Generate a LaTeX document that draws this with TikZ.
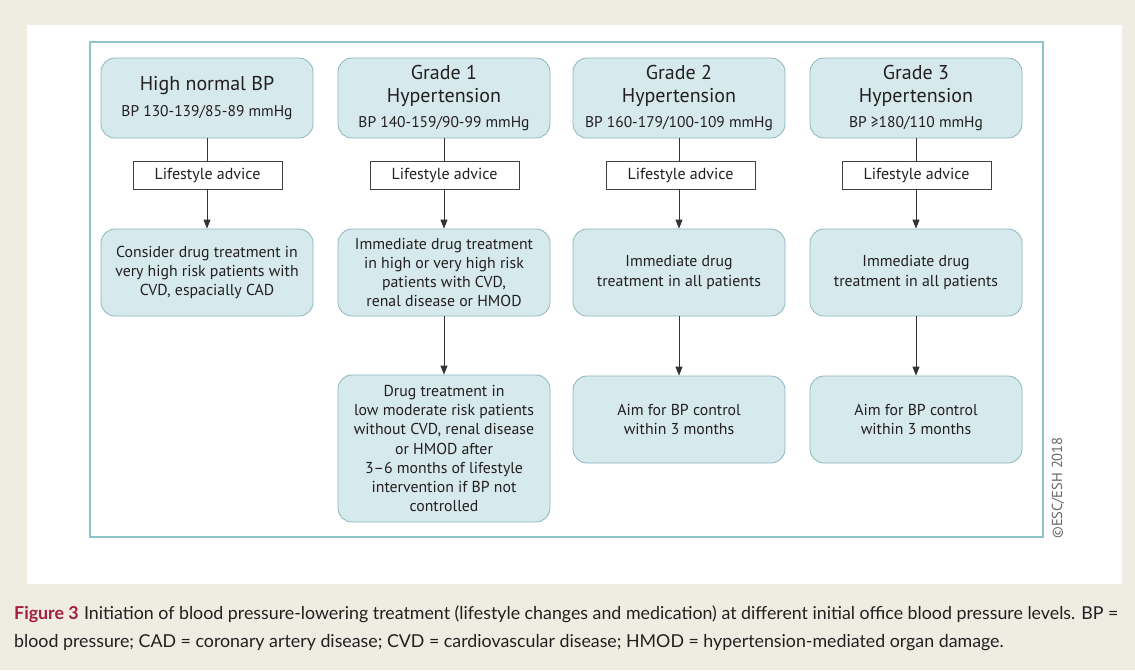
\documentclass[tikz,border=0pt]{standalone}
\usepackage{fontspec}
\setmainfont{PT Sans}
\newfontfamily\capfont{Lato}
\usetikzlibrary{arrows.meta}
\definecolor{bgbeige}{HTML}{EFEDE2}
\definecolor{boxfill}{HTML}{D6E9EC}
\definecolor{boxline}{HTML}{8DB7BF}
\definecolor{frameline}{HTML}{8CC4CB}
\definecolor{figred}{HTML}{A51E3A}
\definecolor{txt}{HTML}{231F20}
\newcommand{\hbig}{\fontsize{20}{25}\selectfont}
\newcommand{\hsmall}{\fontsize{15.5}{17}\selectfont}
\begin{document}
\begin{tikzpicture}[x=1pt,y=-1pt,
  rbox/.style={draw=boxline, fill=boxfill, rounded corners=14pt, line width=0.8pt,
    minimum width=212pt, align=center, text=txt, inner sep=0pt,
    font=\fontsize{15.8}{19.3}\selectfont},
  lbox/.style={draw=black!75, fill=white, line width=0.8pt, minimum width=149pt,
    minimum height=28pt, inner sep=0pt, text=txt, font=\fontsize{16}{18}\selectfont},
  link/.style={draw=black!80, line width=0.9pt},
  arr/.style={link, -{Triangle[length=9pt,width=7pt]}},
]
\fill[bgbeige] (0,0) rectangle (1135,670);
\useasboundingbox (0,0) rectangle (1135,670);
\fill[white] (27,25) rectangle (1122,584);
\draw[frameline, line width=1.5pt] (90,42) rectangle (1043,537);

% column 1
\node[rbox, minimum height=80pt] (h1) at (207,98)
  {\hbig High normal BP\\[6pt]\hsmall BP 130-139/85-89 mmHg};
\node[lbox] (l1) at (207.5,175) {Lifestyle advice};
\node[rbox, minimum height=87pt] (d1) at (207,272.5)
  {Consider drug treatment in\\very high risk patients with\\CVD, espacially CAD};

% column 2
\node[rbox, minimum height=80pt] (h2) at (444,98)
  {\hbig Grade 1\\[4pt]\hbig Hypertension\\[6pt]\hsmall BP 140-159/90-99 mmHg};
\node[lbox] (l2) at (444.5,175) {Lifestyle advice};
\node[rbox, minimum height=87pt] (d2) at (444,272.5)
  {Immediate drug treatment\\in high or very high risk\\patients with CVD,\\renal disease or HMOD};
\node[rbox, minimum height=147pt] (e2) at (444,448.5)
  {Drug treatment in\\low moderate risk patients\\without CVD, renal disease\\or HMOD after\\3--6 months of lifestyle\\intervention if BP not\\controlled};

% column 3
\node[rbox, minimum height=80pt] (h3) at (679,98)
  {\hbig Grade 2\\[4pt]\hbig Hypertension\\[6pt]\hsmall BP 160-179/100-109 mmHg};
\node[lbox] (l3) at (680.5,175) {Lifestyle advice};
\node[rbox, minimum height=87pt] (d3) at (679,272.5)
  {Immediate drug\\treatment in all patients};
\node[rbox, minimum height=87pt] (e3) at (679,419.5)
  {Aim for BP control\\within 3 months};

% column 4
\node[rbox, minimum height=80pt] (h4) at (916,98)
  {\hbig Grade 3\\[4pt]\hbig Hypertension\\[6pt]\hsmall BP ≥180/110 mmHg};
\node[lbox] (l4) at (916.5,175) {Lifestyle advice};
\node[rbox, minimum height=87pt] (d4) at (916,272.5)
  {Immediate drug\\treatment in all patients};
\node[rbox, minimum height=87pt] (e4) at (916,419.5)
  {Aim for BP control\\within 3 months};

% connectors
\foreach \c in {1,2,3,4}{
  \draw[link] (h\c.south) -- (h\c.south |- l\c.north);
  \draw[arr] (h\c.south |- l\c.south) -- (h\c.south |- d\c.north);
}
\draw[arr] (d2) -- (e2);
\draw[arr] (d3) -- (e3);
\draw[arr] (d4) -- (e4);

% copyright
\node[rotate=90, text=black!60, font=\fontsize{14.5}{16}\selectfont] (copy) at (1058,488) {©ESC/ESH 2018};

% caption
\node[anchor=base west, inner sep=0pt, text=txt, font=\capfont\fontsize{17.8}{20}\selectfont] (cap1) at (14,619)
  {{\bfseries\color{figred}Figure 3}\hspace{0.3em}Initiation of blood pressure-lowering treatment (lifestyle changes and medication) at different initial office blood pressure levels. BP =};
\node[anchor=base west, inner sep=0pt, text=txt, font=\capfont\fontsize{17.8}{20}\selectfont] (cap2) at (14,647)
  {blood pressure; CAD = coronary artery disease; CVD = cardiovascular disease; HMOD = hypertension-mediated organ damage.};
\end{tikzpicture}
\end{document}
